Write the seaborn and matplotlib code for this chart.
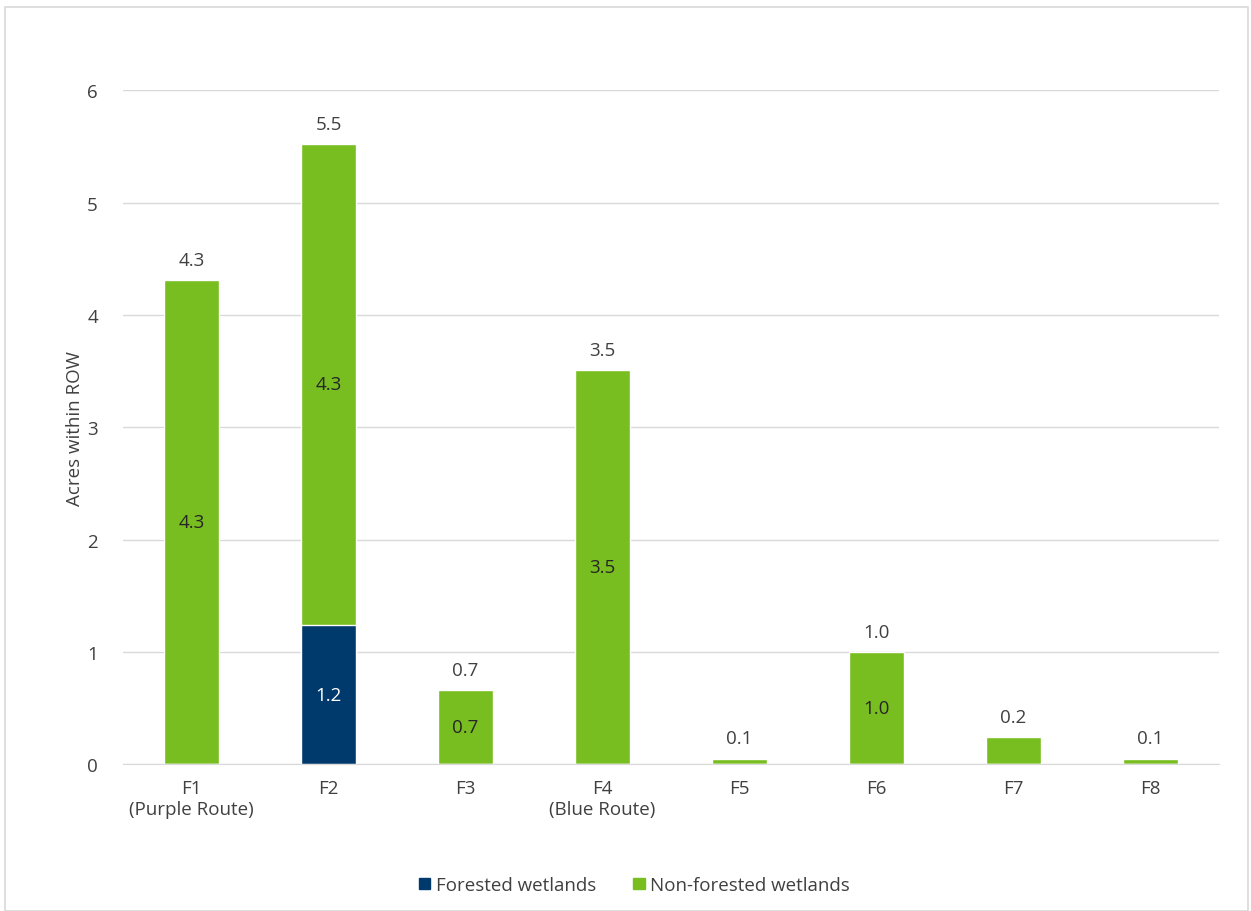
import pandas as pd
import matplotlib.pyplot as plt
import seaborn as sns
from matplotlib.patches import Patch, Rectangle

# data
sites = ["F1\n(Purple Route)", "F2", "F3", "F4\n(Blue Route)", "F5", "F6", "F7", "F8"]
forested = [0, 1.24, 0, 0, 0, 0, 0, 0]
non_forested = [4.31, 4.28, 0.66, 3.51, 0.05, 1.0, 0.24, 0.05]

df = pd.DataFrame({"site": sites, "forested": forested, "non_forested": non_forested})
df["total"] = df["forested"] + df["non_forested"]

navy = "#003a6c"
green = "#78be20"
text_gray = "#404040"
fs = 13.5

sns.set_style("white")
plt.rcParams["font.family"] = ["Open Sans", "DejaVu Sans"]

fig = plt.figure(figsize=(12.51, 9.12), dpi=100)
ax = fig.add_axes([0.0983, 0.161, 0.876, 0.739])

# totals in green, forested part drawn over it in navy
sns.barplot(data=df, x="site", y="total", color=green, width=0.4, saturation=1, ax=ax)
sns.barplot(data=df, x="site", y="forested", color=navy, width=0.4, saturation=1, ax=ax)

green_bars = ax.containers[0]
navy_bars = ax.containers[1]

# total labels above bars
ax.bar_label(green_bars, labels=[f"{v:.1f}" for v in df["total"]], padding=8,
             fontsize=fs, color=text_gray)
# forested label
ax.bar_label(navy_bars, labels=[f"{v:.1f}" if v > 0.3 else "" for v in df["forested"]],
             label_type="center", fontsize=fs, color="white")
# non-forested labels inside segment
for i, row in df.iterrows():
    if row["non_forested"] > 0.5:
        ax.text(i, row["forested"] + row["non_forested"] / 2, f"{row['non_forested']:.1f}",
                ha="center", va="center", fontsize=fs, color="#262626")

ax.set_ylim(0, 6)
ax.set_xlim(-0.5, 7.5)
ax.set_yticks(range(0, 7))
ax.grid(axis="y", color="#d9d9d9", linewidth=1)
ax.set_axisbelow(True)
for s in ["top", "right", "left"]:
    ax.spines[s].set_visible(False)
ax.spines["bottom"].set_color("#d9d9d9")
ax.tick_params(axis="y", length=0, pad=18, labelsize=fs, labelcolor=text_gray)
ax.tick_params(axis="x", length=0, pad=11, labelsize=fs, labelcolor=text_gray)
ax.set_xlabel("")
ax.set_ylabel("Acres within ROW", fontsize=fs, color=text_gray, labelpad=2)

handles = [Patch(color=navy, label="Forested wetlands"),
           Patch(color=green, label="Non-forested wetlands")]
fig.legend(handles=handles, loc="lower center", bbox_to_anchor=(0.507, 0.0), ncol=2,
           frameon=False, fontsize=fs, handlelength=0.6, handleheight=0.6,
           handletextpad=0.3, columnspacing=2.0, labelcolor=text_gray)

# light frame around the chart
fig.patches.append(Rectangle((0.004, 0.0), 0.994, 0.991, transform=fig.transFigure,
                             fill=False, edgecolor="#d9d9d9", linewidth=1.2))

fig.savefig("out.png", dpi=100)
